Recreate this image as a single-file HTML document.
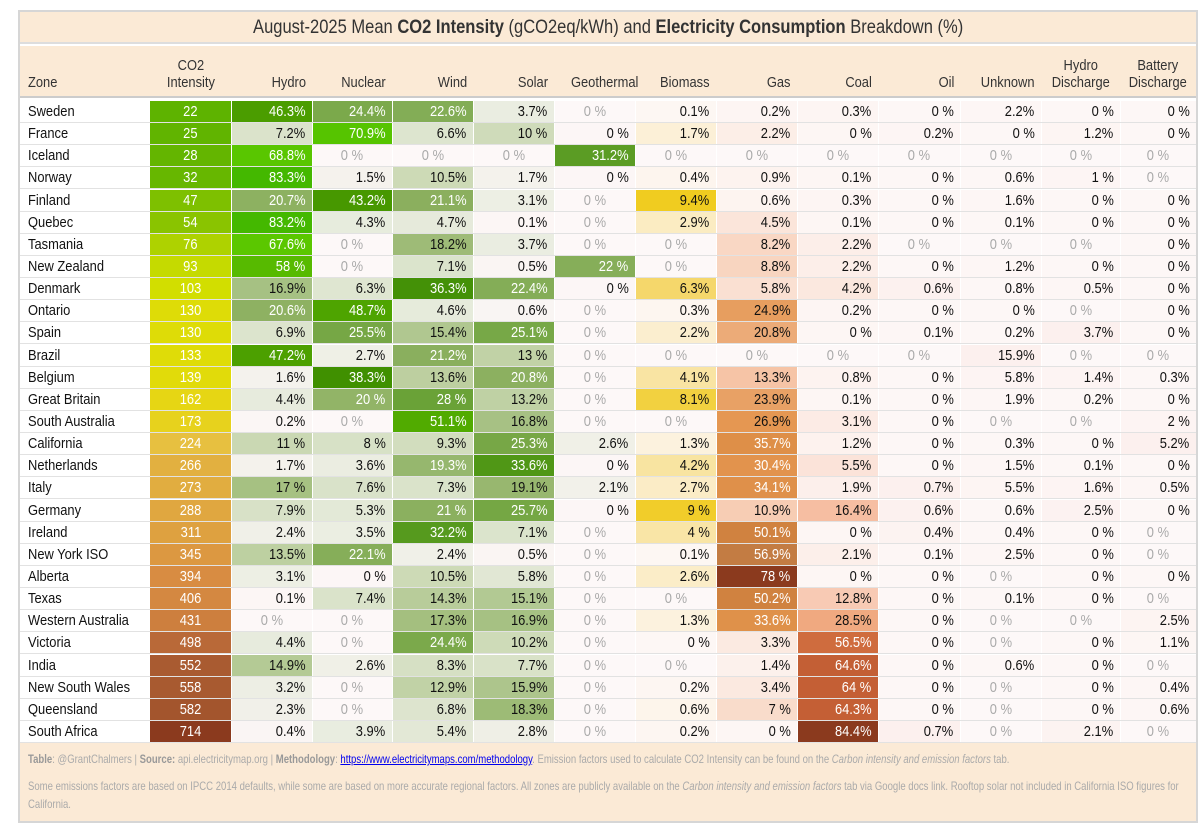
<!DOCTYPE html>
<html><head><meta charset="utf-8"><style>
body{margin:0;background:#fff;width:1200px;height:833px;position:relative;overflow:hidden;font-family:"Liberation Sans",sans-serif;}
.abs{position:absolute;box-sizing:border-box;}
#frame{left:18px;top:10px;width:1180px;height:813px;border:2px solid #d6d6d6;background:#fff;}
#title{left:20px;top:12px;width:1176px;height:32px;background:#fbead6;text-align:center;font-size:19px;line-height:32px;color:#333;border-bottom:2px solid #ddd;}
#title span{display:inline-block;transform:scaleX(.87);transform-origin:center;white-space:nowrap}
#head{left:20px;top:46px;width:1176px;height:52px;background:#fbead6;border-bottom:2px solid #ccc;}
.h{font-size:15px;color:#333;line-height:17px;}
.c{font-size:15px;line-height:21px;height:21px;white-space:nowrap;padding:0 6px;}
.s{display:inline-block;transform:scaleX(.86);}
#foot{left:20px;top:743px;width:1176px;height:78px;background:#fbead6;overflow:hidden}
#foottext{position:absolute;left:8px;top:7px;width:1440px;transform:scaleX(.795);transform-origin:left top;color:#aaa;font-size:12px;line-height:18px;}
#foottext b{color:#999}
.nw{white-space:nowrap}
</style></head><body>
<div id="frame" class="abs"></div>
<div id="title" class="abs"><span>August-2025 Mean <b>CO2 Intensity</b> (gCO2eq/kWh) and <b>Electricity Consumption</b> Breakdown (%)</span></div>
<div id="head" class="abs"></div>
<div id="body"></div>
<div id="foot" class="abs"><div id="foottext"><div class="nw"><b>Table</b>: @GrantChalmers | <b>Source:</b> api.electricitymap.org | <b>Methodology</b>: <a style="color:#00e;text-decoration:underline">https://www.electricitymaps.com/methodology</a>. Emission factors used to calculate CO2 Intensity can be found on the <i>Carbon intensity and emission factors</i> tab.</div><div style="height:9px"></div><div class="nw">Some emissions factors are based on IPCC 2014 defaults, while some are based on more accurate regional factors. All zones are publicly available on the <i>Carbon intensity and emission factors</i> tab via Google docs link. Rooftop solar not included in California ISO figures for</div><div>California.</div></div></div>
<script>
const columns=["Zone","CO2<br>Intensity","Hydro","Nuclear","Wind","Solar","Geothermal","Biomass","Gas","Coal","Oil","Unknown","Hydro<br>Discharge","Battery<br>Discharge"];
const zones=["Sweden","France","Iceland","Norway","Finland","Quebec","Tasmania","New Zealand","Denmark","Ontario","Spain","Brazil","Belgium","Great Britain","South Australia","California","Netherlands","Italy","Germany","Ireland","New York ISO","Alberta","Texas","Western Australia","Victoria","India","New South Wales","Queensland","South Africa"];
const co2=[22,25,28,32,47,54,76,93,103,130,130,133,139,162,173,224,266,273,288,311,345,394,406,431,498,552,558,582,714];
const n=null;
const hydro=[46.3,7.2,68.8,83.3,20.7,83.2,67.6,58,16.9,20.6,6.9,47.2,1.6,4.4,0.2,11,1.7,17,7.9,2.4,13.5,3.1,0.1,n,4.4,14.9,3.2,2.3,0.4];
const nuclear=[24.4,70.9,n,1.5,43.2,4.3,n,n,6.3,48.7,25.5,2.7,38.3,20,n,8,3.6,7.6,5.3,3.5,22.1,0,7.4,n,n,2.6,n,n,3.9];
const wind=[22.6,6.6,n,10.5,21.1,4.7,18.2,7.1,36.3,4.6,15.4,21.2,13.6,28,51.1,9.3,19.3,7.3,21,32.2,2.4,10.5,14.3,17.3,24.4,8.3,12.9,6.8,5.4];
const solar=[3.7,10,n,1.7,3.1,0.1,3.7,0.5,22.4,0.6,25.1,13,20.8,13.2,16.8,25.3,33.6,19.1,25.7,7.1,0.5,5.8,15.1,16.9,10.2,7.7,15.9,18.3,2.8];
const geothermal=[n,0,31.2,0,n,n,n,22,0,n,n,n,n,n,n,2.6,0,2.1,0,n,n,n,n,n,n,n,n,n,n];
const biomass=[0.1,1.7,n,0.4,9.4,2.9,n,n,6.3,0.3,2.2,n,4.1,8.1,n,1.3,4.2,2.7,9,4,0.1,2.6,n,1.3,0,n,0.2,0.6,0.2];
const gas=[0.2,2.2,n,0.9,0.6,4.5,8.2,8.8,5.8,24.9,20.8,n,13.3,23.9,26.9,35.7,30.4,34.1,10.9,50.1,56.9,78,50.2,33.6,3.3,1.4,3.4,7,0];
const coal=[0.3,0,n,0.1,0.3,0.1,2.2,2.2,4.2,0.2,0,n,0.8,0.1,3.1,1.2,5.5,1.9,16.4,0,2.1,0,12.8,28.5,56.5,64.6,64,64.3,84.4];
const oil=[0,0.2,n,0,0,0,n,0,0.6,0,0.1,n,0,0,0,0,0,0.7,0.6,0.4,0.1,0,0,0,0,0,0,0,0.7];
const unknown=[2.2,0,n,0.6,1.6,0.1,n,1.2,0.8,0,0.2,15.9,5.8,1.9,n,0.3,1.5,5.5,0.6,0.4,2.5,n,0.1,n,n,0.6,n,n,n];
const hydroDischarge=[0,1.2,n,1,0,0,n,0,0.5,n,3.7,n,1.4,0.2,n,0,0.1,1.6,2.5,0,0,0,0,n,0,0,0,0,2.1];
const batteryDischarge=[0,0,n,n,0,0,0,0,0,0,0,n,0.3,0,2,5.2,0,0.5,0,n,n,0,n,2.5,1.1,n,0.4,0.6,n];

const edges=[22,150,231,312,392,473,554,635,716,797,878,960,1041,1120,1196];
const rowTop=101,rowH=22.14;
function hex(h){return [1,3,5].map(i=>parseInt(h.substr(i,2),16));}
function pal(stops,t){t=Math.max(0,Math.min(1,t));for(let i=1;i<stops.length;i++){if(t<=stops[i][0]){const a=stops[i-1],b=stops[i];const f=(t-a[0])/(b[0]-a[0]||1);const A=hex(a[1]),B=hex(b[1]);return A.map((v,k)=>Math.round(v+(B[k]-v)*f));}}return hex(stops[stops.length-1][1]);}
const greenP=[[0,"#fcf6f6"],[0.05,"#e8ecde"],[0.15,"#c4d4aa"],[0.25,"#8cb060"],[0.35,"#64a030"],[0.45,"#3f8f00"],[0.55,"#4a9c00"],[0.65,"#55b400"],[0.8,"#5cc800"],[1,"#44b800"]];
const bioP=[[0,"#fdf7f5"],[0.3,"#fbecc4"],[0.65,"#f5d870"],[1,"#f0cc20"]];
const gasP=[[0,"#fdf6f4"],[0.17,"#f6c4a6"],[0.35,"#e49650"],[0.6,"#d6853e"],[0.75,"#c07a44"],[1,"#8b3a1e"]];
const coalP=[[0,"#fdf6f4"],[0.2,"#f6bca0"],[0.4,"#eea072"],[0.7,"#cc6638"],[0.85,"#b85530"],[1,"#8b3a1e"]];
const co2P=[[0,"#4caa00"],[0.05,"#6ab800"],[0.1,"#a8d000"],[0.15,"#d8e000"],[0.22,"#e6d810"],[0.3,"#e8c440"],[0.4,"#e0a840"],[0.55,"#d88c42"],[0.7,"#b86838"],[0.78,"#a85a30"],[1,"#8b3a1e"]];
const plainP=[[0,"#fdf7f6"],[1,"#fcf0ee"]];
const series=[[hydro,greenP],[nuclear,greenP],[wind,greenP],[solar,greenP],[geothermal,greenP],[biomass,bioP],[gas,gasP],[coal,coalP],[oil,plainP],[unknown,plainP],[hydroDischarge,plainP],[batteryDischarge,plainP]];
const names=["hydro","nuclear","wind","solar","geothermal","biomass","gas","coal","oil","unknown","hydro-discharge","battery-discharge"];
const greenMax=Math.max(...[hydro,nuclear,wind,solar,geothermal].flat().filter(x=>x!=null));
function lum(c){return 0.299*c[0]+0.587*c[1]+0.114*c[2];}
function fmt(v){return Number.isInteger(v)?v+" %":v.toFixed(1)+"%";}
function span(txt,origin){return `<span class="s" style="transform-origin:${origin}">${txt}</span>`;}
const body=document.getElementById('body');
columns.forEach((c,i)=>{const d=document.createElement('div');d.className='abs h';


const al=i==0?'left':(i==1||i>=12?'center':'right');
d.style.left=edges[i]+'px';d.style.width=(edges[i+1]-edges[i])+'px';d.style.bottom=(833-91)+'px';
d.style.textAlign=al;d.style.padding=(i==1||i>=12)?'0':'0 6px';
d.innerHTML=span(c,al);body.appendChild(d);});
const co2Max=Math.max(...co2);
zones.forEach((z,r)=>{
 const top=Math.round(rowTop+r*rowH);
 const line=document.createElement('div');line.className='abs';
 
 
 line.style.cssText=`left:20px;width:1176px;top:${top+21}px;height:1px;background:#e2e2e2`;body.appendChild(line);
 const zc=document.createElement('div');zc.className='abs c';
 
 
 zc.style.left=edges[0]+'px';zc.style.top=top+'px';zc.style.color='#111';zc.innerHTML=span(z,'left');body.appendChild(zc);
 const cc=pal(co2P,co2[r]/co2Max);const ce=document.createElement('div');ce.className='abs c';
 
 
 ce.style.cssText=`left:${edges[1]}px;width:${edges[2]-edges[1]}px;top:${top}px;background:rgb(${cc});text-align:center;color:#fff`;
 ce.innerHTML=span(co2[r],'center');body.appendChild(ce);
 series.forEach(([arr,p],k)=>{
  const v=arr[r];const mx=k<5?greenMax:Math.max(...arr.filter(x=>x!=null));
  const x0=edges[k+2],w=edges[k+3]-x0;const e=document.createElement('div');e.className='abs c';
  
  
  let bg,col,al,txt;
  if(v==null){bg='#fdf8f8';col='#aaa';al='center';txt='0 %';}
  else{const c=pal(p,mx?v/mx:0);bg=`rgb(${c})`;col=lum(c)<165?'#fff':'#111';al='right';txt=fmt(v);}
  e.style.cssText=`left:${x0+0.5}px;width:${w-1}px;top:${top}px;background:${bg};color:${col};text-align:${al}`;
  e.innerHTML=span(txt,al);
  body.appendChild(e);
 });
});
</script>
</body></html>
